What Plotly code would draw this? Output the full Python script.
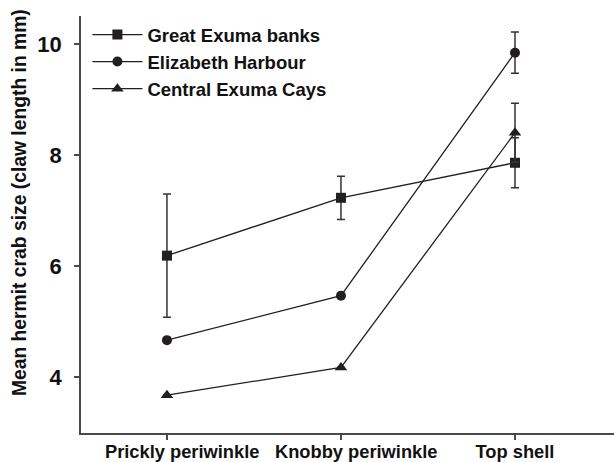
import plotly.graph_objects as go

categories = ["Prickly periwinkle", "Knobby periwinkle", "Top shell"]
series_names = ["Great Exuma banks", "Elizabeth Harbour", "Central Exuma Cays"]
great_exuma = [6.19, 7.23, 7.86]
great_exuma_err = [1.11, 0.39, 0.45]
elizabeth = [4.67, 5.47, 9.84]
elizabeth_err = [0.0, 0.0, 0.37]
central = [3.68, 4.18, 8.40]
central_err = [0.0, 0.0, 0.53]
y_ticks = [4, 6, 8, 10]
y_title = "Mean hermit crab size (claw length in mm)"

ink = "#231f20"
axis_col = "#4a4a4a"
font = dict(family="Liberation Sans, Arial, sans-serif", size=18, color="#111111", weight="bold")

fig = go.Figure()
symbols = ["square", "circle", "triangle-up"]
sizes = [10, 10, 11]
for name, vals, errs, sym, sz in zip(series_names,
                                     [great_exuma, elizabeth, central],
                                     [great_exuma_err, elizabeth_err, central_err],
                                     symbols, sizes):
    fig.add_trace(go.Scatter(
        x=categories, y=vals, name=name, mode="lines+markers",
        line=dict(color=ink, width=1.3),
        marker=dict(symbol=sym, size=sz, color=ink),
        error_y=dict(type="data", array=errs, visible=True, color="#333333",
                     thickness=1.5, width=4),
    ))

# the original's first two category labels sit a little right of their ticks
label_pad = ["\u00a0" * 6, "\u00a0" * 6, ""]
tick_text = [p + c for p, c in zip(label_pad, categories)]

fig.update_layout(
    width=614, height=462,
    margin=dict(l=81, r=0, t=16, b=29, autoexpand=False),
    paper_bgcolor="white", plot_bgcolor="white",
    font=font,
    showlegend=True,
    legend=dict(x=0.012, y=1.0, xanchor="left", yanchor="top",
                bgcolor="rgba(0,0,0,0)", font=dict(size=18.5), tracegroupgap=0,
                itemwidth=50),
    annotations=[dict(text=y_title, textangle=-90, xref="paper", yref="paper",
                      x=-0.114, y=0.552, xanchor="center", yanchor="middle",
                      showarrow=False, font=dict(size=19.3))],
)
fig.update_xaxes(
    type="category", range=[-0.494, 2.569],
    tickmode="array", tickvals=categories, ticktext=tick_text, tickangle=0,
    showline=True, linecolor=axis_col, linewidth=1.5,
    ticks="outside", ticklen=5, tickcolor=axis_col, tickwidth=1.5,
    showgrid=False, zeroline=False, tickfont=dict(size=18.3),
    ticklabelstandoff=-4,
)
fig.update_yaxes(
    range=[3.0, 10.5], tickvals=y_ticks,
    showline=True, linecolor=axis_col, linewidth=1.5,
    ticks="outside", ticklen=5, tickcolor=axis_col, tickwidth=1.5,
    showgrid=False, zeroline=False, tickfont=dict(size=22),
    ticklabelstandoff=8,
)

fig.write_html("out.html", config={"displayModeBar": False},
               post_script="document.body.style.margin='0';")
